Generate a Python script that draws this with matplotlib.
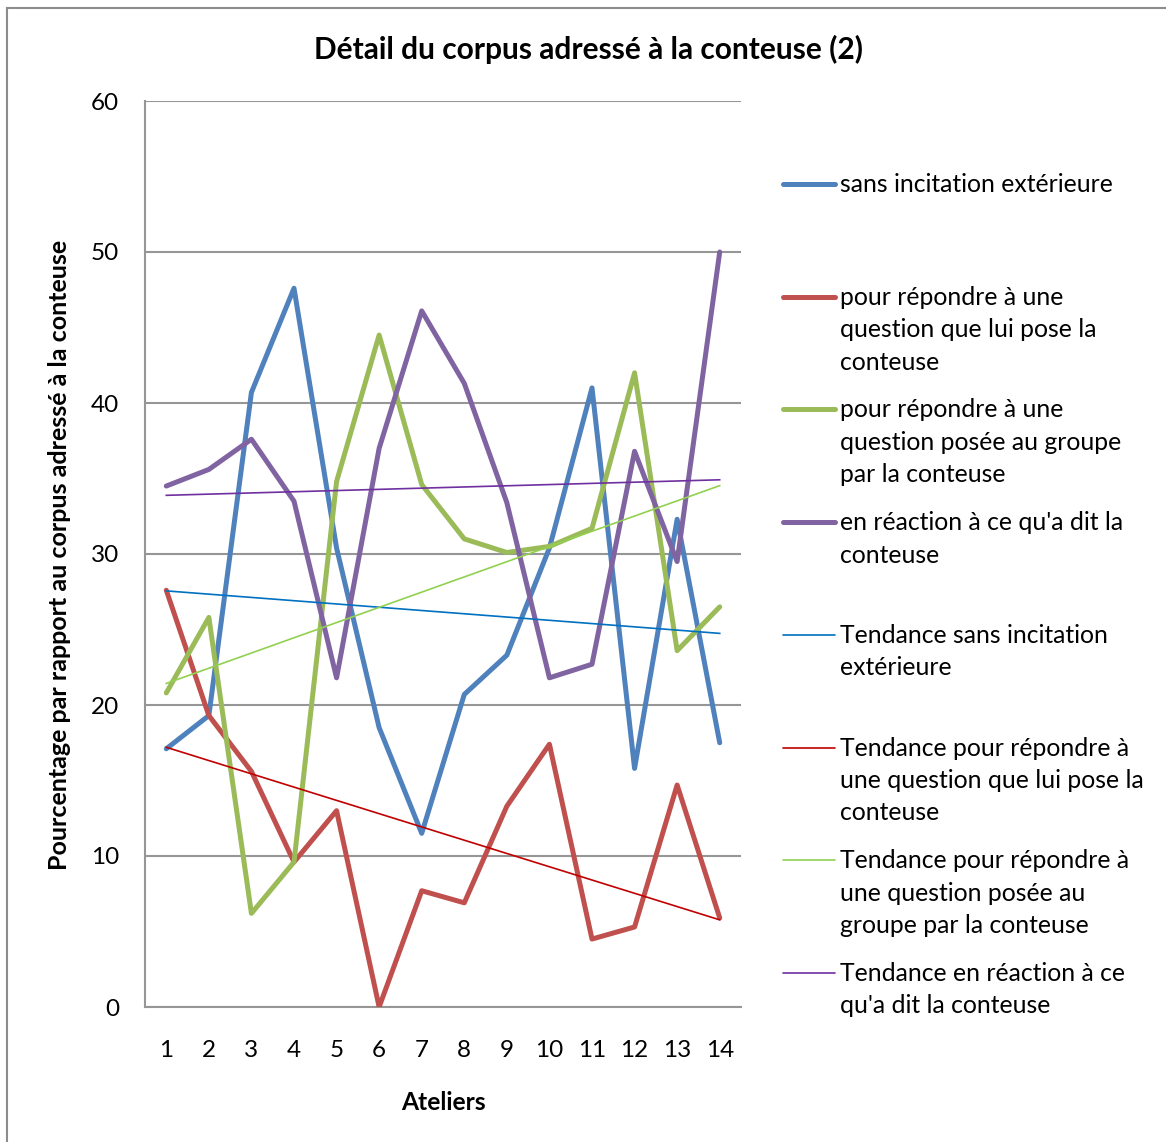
import matplotlib.pyplot as plt
from matplotlib.lines import Line2D
import numpy as np

plt.rcParams["font.family"] = ["Lato", "DejaVu Sans"]

ateliers = np.arange(1, 15)

sans_incitation = [17.1, 19.3, 40.7, 47.6, 30.4, 18.5, 11.5, 20.7, 23.3, 30.4, 41.0, 15.8, 32.3, 17.5]
question_conteuse = [27.6, 19.3, 15.6, 9.6, 13.0, 0.0, 7.7, 6.9, 13.3, 17.4, 4.5, 5.3, 14.7, 5.9]
question_groupe = [20.8, 25.8, 6.2, 9.6, 34.8, 44.5, 34.6, 31.0, 30.1, 30.5, 31.7, 42.0, 23.6, 26.5]
reaction = [34.5, 35.6, 37.6, 33.5, 21.8, 37.0, 46.1, 41.3, 33.4, 21.8, 22.7, 36.8, 29.5, 50.0]

series = [sans_incitation, question_conteuse, question_groupe, reaction]
colors = ["#4F81BD", "#C0504D", "#9BBB59", "#8064A2"]
trend_colors = ["#0070C0", "#C00000", "#92D050", "#7030A0"]

legend_texts = [
    ["sans incitation extérieure"],
    ["pour répondre à une", "question que lui pose la", "conteuse"],
    ["pour répondre à une", "question posée au groupe", "par la conteuse"],
    ["en réaction à ce qu'a dit la", "conteuse"],
    ["Tendance sans incitation", "extérieure"],
    ["Tendance pour répondre à", "une question que lui pose la", "conteuse"],
    ["Tendance pour répondre à", "une question posée au", "groupe par la conteuse"],
    ["Tendance en réaction à ce", "qu'a dit la conteuse"],
]

W, H = 1166, 1142
fig = plt.figure(figsize=(W / 100, H / 100), dpi=100)
ax = fig.add_axes([145 / W, 1 - 1007 / H, (741 - 145) / W, (1007 - 101) / H])

# main series
for vals, c in zip(series, colors):
    ax.plot(ateliers, vals, color=c, linewidth=3.6, solid_capstyle="round",
            solid_joinstyle="round", zorder=3)

# linear trend lines
for vals, c in zip(series, trend_colors):
    slope, icpt = np.polyfit(ateliers, vals, 1)
    ax.plot(ateliers, slope * ateliers + icpt, color=c, linewidth=1.2, zorder=4)

ax.set_xlim(0.5, 14.5)
ax.set_ylim(0, 60)
ax.set_yticks(range(0, 61, 10))
ax.set_xticks(ateliers)
ax.grid(axis="y", color="#969696", linewidth=1.5, zorder=0)
ax.set_axisbelow(True)
for s in ["top", "right"]:
    ax.spines[s].set_visible(False)
for s in ["left", "bottom"]:
    ax.spines[s].set_color("#969696")
    ax.spines[s].set_linewidth(1.5)
ax.tick_params(axis="both", length=0, labelsize=17.5)
ax.tick_params(axis="y", pad=18.5)
ax.tick_params(axis="x", pad=24)

fig.text(589 / W, 1 - 49 / H, "Détail du corpus adressé à la conteuse (2)",
         ha="center", va="center", fontsize=21.5, fontweight="bold")
fig.text(60 / W, 1 - 555 / H, "Pourcentage par rapport au corpus adressé à la conteuse",
         ha="center", va="center", rotation=90, fontsize=18, fontweight="bold")
fig.text(443 / W, 1 - 1103 / H, "Ateliers", ha="center", va="center",
         fontsize=17.7, fontweight="bold")

# legend drawn by hand
legend_colors = colors + trend_colors
for i, (lines, c) in enumerate(zip(legend_texts, legend_colors)):
    y0 = 184 + i * 112.7
    lw = 3.6 if i < 4 else 1.2
    fig.add_artist(Line2D([783 / W, 835 / W], [1 - y0 / H, 1 - y0 / H], color=c,
                          linewidth=lw, solid_capstyle="round"))
    for k, t in enumerate(lines):
        yb = y0 + 8 + k * 32.5
        fig.text(840 / W, 1 - yb / H, t, ha="left", va="baseline", fontsize=17.8)

# chart area border
fig.add_artist(Line2D([7 / W, 7 / W], [0, 1 - 8 / H], color="#8c8c8c", linewidth=1.5))
fig.add_artist(Line2D([7 / W, 1], [1 - 8 / H, 1 - 8 / H], color="#8c8c8c", linewidth=1.5))

fig.savefig("out.png", dpi=100)
